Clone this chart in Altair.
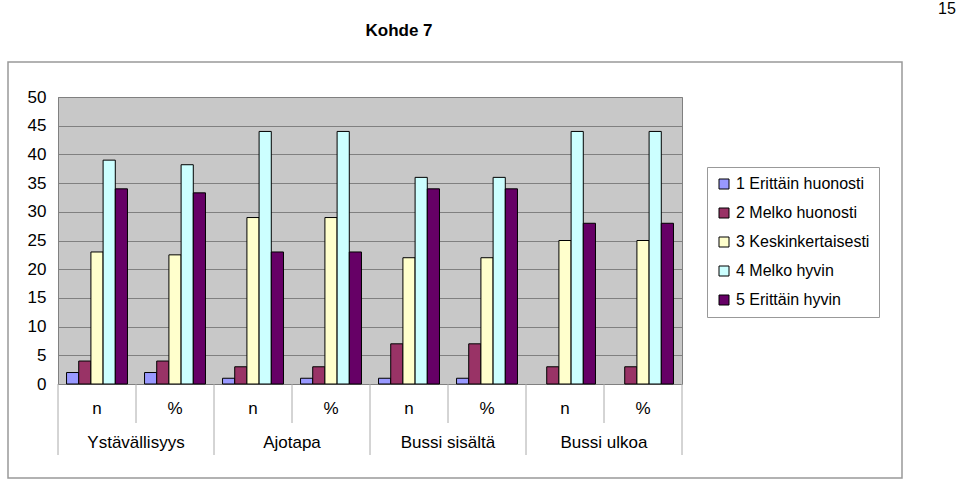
import altair as alt
import pandas as pd

groups = ["Ystävällisyys", "Ajotapa", "Bussi sisältä", "Bussi ulkoa"]
subs = ["n", "%"]
series = ["1 Erittäin huonosti", "2 Melko huonosti", "3 Keskinkertaisesti",
          "4 Melko hyvin", "5 Erittäin hyvin"]
colors = ["#9999FF", "#993366", "#FFFFCC", "#CCFFFF", "#660066"]

# values per column (group|sub), one per series
ystavallisyys_n = [2, 4, 23, 39, 34]
ystavallisyys_p = [2, 4, 22.5, 38.2, 33.3]
ajotapa_n = [1, 3, 29, 44, 23]
ajotapa_p = [1, 3, 29, 44, 23]
sisalta_n = [1, 7, 22, 36, 34]
sisalta_p = [1, 7, 22, 36, 34]
ulkoa_n = [0, 3, 25, 44, 28]
ulkoa_p = [0, 3, 25, 44, 28]

col_values = [ystavallisyys_n, ystavallisyys_p, ajotapa_n, ajotapa_p,
              sisalta_n, sisalta_p, ulkoa_n, ulkoa_p]
cols = [f"{g}|{s}" for g in groups for s in subs]

rows = []
for c, vals in zip(cols, col_values):
    for s, v in zip(series, vals):
        rows.append({"col": c, "series": s, "value": v})
df = pd.DataFrame(rows)

cols_df = pd.DataFrame({
    "col": cols,
    "group": [c.split("|")[0] for c in cols],
    "sub": [c.split("|")[1] for c in cols],
})

W, H = 624, 287
FONT = "Liberation Sans"

xscale = alt.Scale(domain=cols, paddingInner=0, paddingOuter=0)

bars = alt.Chart(df).transform_filter("datum.value > 0").mark_bar(
    stroke="black", strokeWidth=1).encode(
    x=alt.X("col:N", scale=xscale, sort=cols,
            axis=alt.Axis(title=None, labelExpr="split(datum.label, '|')[1]",
                          labelAngle=0, ticks=False, domain=False,
                          labelFontSize=17, labelColor="black", labelFont=FONT,
                          labelPadding=16)),
    xOffset=alt.XOffset("series:N", sort=series,
                        scale=alt.Scale(domain=series, paddingInner=0, paddingOuter=0.7)),
    y=alt.Y("value:Q", scale=alt.Scale(domain=[0, 50], nice=False),
            axis=alt.Axis(title=None, values=list(range(0, 51, 5)), ticks=False,
                          labelFontSize=17, labelFont=FONT, labelColor="black",
                          labelPadding=12, gridColor="#808080", domainColor="#808080",
                          gridOpacity=1)),
    color=alt.Color("series:N", sort=series,
                    scale=alt.Scale(domain=series, range=colors),
                    legend=alt.Legend(title=None, orient="none", legendX=649, legendY=70,
                                      labelFont=FONT, labelFontSize=16, labelColor="black",
                                      symbolType="square", symbolSize=100,
                                      symbolStrokeColor="black", symbolStrokeWidth=1,
                                      strokeColor="#999999", fillColor="white",
                                      padding=9, rowPadding=13, labelOffset=4,
                                      offset=0, labelLimit=300)),
)

# separators below the axis
sep_short = alt.Chart(cols_df).transform_filter("datum.sub == '%'").mark_rule(
    color="#aaaaaa", strokeWidth=1).encode(
    x=alt.X("col:N", scale=xscale, sort=cols, bandPosition=0),
    y=alt.value(H), y2=alt.value(H + 39))
sep_long = alt.Chart(cols_df).transform_filter("datum.sub == 'n'").mark_rule(
    color="#aaaaaa", strokeWidth=1).encode(
    x=alt.X("col:N", scale=xscale, sort=cols, bandPosition=0),
    y=alt.value(H), y2=alt.value(H + 71))
sep_right = alt.Chart(cols_df.head(1)).mark_rule(color="#aaaaaa", strokeWidth=1).encode(
    x=alt.value(W), y=alt.value(H), y2=alt.value(H + 71))

group_labels = alt.Chart(cols_df).transform_filter("datum.sub == '%'").mark_text(
    font=FONT, fontSize=17, color="black", baseline="middle").encode(
    x=alt.X("col:N", scale=xscale, sort=cols, bandPosition=0),
    y=alt.value(H + 59), text="group:N")

title = alt.Chart(cols_df.head(1)).mark_text(
    font=FONT, fontSize=17, fontWeight="bold", color="black", baseline="middle").encode(
    x=alt.value(399 - 58), y=alt.value(31 - 97), text=alt.value("Kohde 7"))
page = alt.Chart(cols_df.head(1)).mark_text(
    font=FONT, fontSize=16, color="black", baseline="middle").encode(
    x=alt.value(947 - 58), y=alt.value(9 - 97), text=alt.value("15"))

border = alt.Chart(cols_df.head(1)).mark_rect(
    fill=None, stroke="#999999", strokeWidth=1.5).encode(
    x=alt.value(8 - 58), x2=alt.value(902 - 58),
    y=alt.value(62 - 97), y2=alt.value(478 - 97))

chart = alt.layer(border, bars, sep_short, sep_long, sep_right, group_labels, title, page).properties(
    width=W, height=H,
    autosize=alt.AutoSizeParams(type="none"),
    padding={"left": 58, "top": 97, "right": 960 - 58 - W, "bottom": 480 - 97 - H},
    background="white",
).configure_view(fill="#C8C8C8", stroke="#808080", strokeWidth=1)

chart.save("out.html", embed_options={"renderer": "svg", "actions": False})
